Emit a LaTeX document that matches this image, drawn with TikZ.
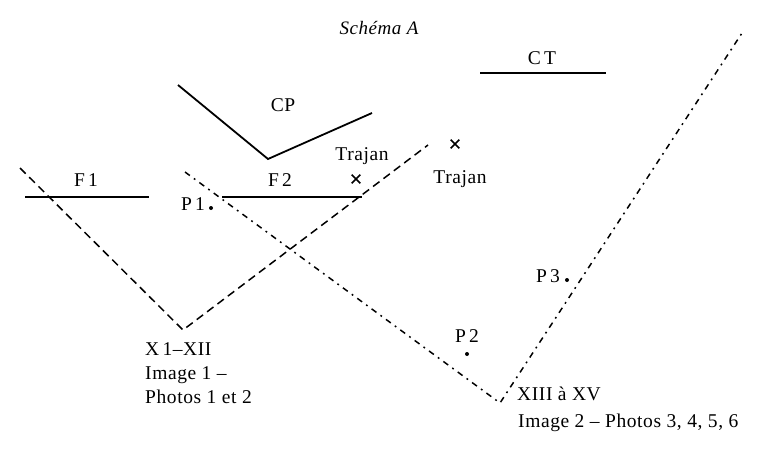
\documentclass[tikz,border=0pt]{standalone}
\usepackage{fontspec}
\usetikzlibrary{shapes.misc}
\setmainfont[LetterSpace=3]{Liberation Serif}
\begin{document}
\begin{tikzpicture}[x=1pt,y=-1pt,
  lbl/.style={font=\fontsize{19.5}{24}\selectfont, inner sep=0pt},
  solidline/.style={line width=1.8pt},
  dashline/.style={line width=1.5pt, dash pattern=on 8pt off 5pt},
  dashdotline/.style={line width=1.5pt, dash pattern=on 6pt off 5pt on 1.8pt off 5pt},
  pt/.style={circle, fill, inner sep=0pt, minimum size=4pt},
  crossmark/.style={cross out, draw, line width=1.6pt, inner sep=0pt, minimum size=7pt}]
\useasboundingbox (0,0) rectangle (767,450);
% vertices
\coordinate (ctA) at (480,73);
\coordinate (ctB) at (606,73);
\coordinate (cpA) at (178,85);
\coordinate (cpV) at (268,159);
\coordinate (cpB) at (372,113);
\coordinate (f1A) at (25,197);
\coordinate (f1B) at (149,197);
\coordinate (f2A) at (222,197);
\coordinate (f2B) at (362,197);
\coordinate (dA) at (20,168);
\coordinate (dV) at (183,330);
\coordinate (dB) at (428,145);
\coordinate (ddA) at (185,172);
\coordinate (ddV) at (500,403);
\coordinate (ddB) at (742,33);
% lines
\draw[solidline] (ctA) -- (ctB);
\draw[solidline] (cpA) -- (cpV) -- (cpB);
\draw[solidline] (f1A) -- (f1B);
\draw[solidline] (f2A) -- (f2B);
\draw[dashline] (dA) -- (dV) -- (dB);
\draw[dashdotline] (ddA) -- (ddV) -- (ddB);
% labels
\node[lbl, font=\fontsize{19}{20}\selectfont\itshape] (title) at (379,28) {Schéma A};
\node[lbl] (ct) at (542,58) {C\,T};
\node[lbl] (cp) at (283,105) {CP};
\node[lbl] (traj1) at (362,156) {Trajan};
\node[lbl] (traj2) at (460,179) {Trajan};
\node[crossmark] (x1) at (455,144) {};
\node[crossmark] (x2) at (356,179) {};
\node[lbl] (f1) at (86,180) {F\,1};
\node[lbl] (f2) at (280,180) {F\,2};
\node[lbl] (p1) at (193,204) {P\,1};
\node[pt] (p1dot) at (211,208) {};
\node[lbl] (p2) at (467,336) {P\,2};
\node[pt] (p2dot) at (467,354) {};
\node[lbl] (p3) at (548,276) {P\,3};
\node[pt] (p3dot) at (567,280) {};
\node[lbl, anchor=north west, align=left] (grp1) at (145,342) {X\,1–XII\\Image 1 –\\Photos 1 et 2};
\node[lbl, anchor=west] (grp2a) at (517,394) {XIII à XV};
\node[lbl, anchor=west] (grp2b) at (518,423) {Image 2 – Photos 3, 4, 5, 6};
\end{tikzpicture}
\end{document}
